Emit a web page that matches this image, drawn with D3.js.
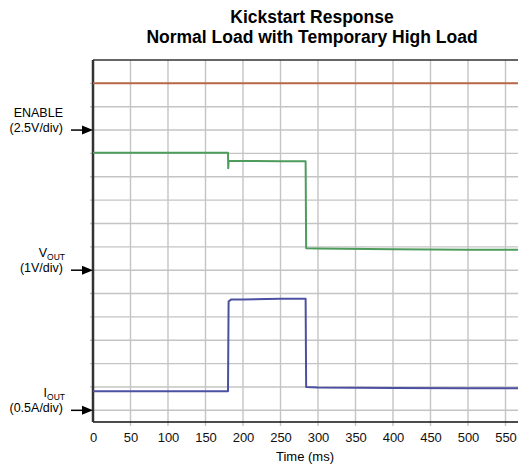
<!DOCTYPE html>
<html>
<head>
<meta charset="utf-8">
<script src="https://cdn.jsdelivr.net/npm/d3@7"></script>
<style>
  body { margin: 0; background: #fff; }
  svg { display: block; font-family: "Liberation Sans", Arial, sans-serif; }
</style>
</head>
<body>
<div id="chart"></div>
<script>
// scope capture, values
const xTicks = [0, 50, 100, 150, 200, 250, 300, 350, 400, 450, 500, 550];

const enableTime = [0, 600];
const enableVolts = [5, 5];

const voutTime = [0, 180, 180.3, 180.8, 200, 250, 283.5, 284.2, 300, 400, 500, 600];
const voutVolts = [5.03, 5.03, 4.37, 4.68, 4.68, 4.67, 4.66, 0.94, 0.93, 0.9, 0.88, 0.87];

const ioutTime = [0, 180, 180.8, 184, 200, 250, 283.5, 284.2, 300, 400, 500, 600];
const ioutAmps = [0.41, 0.41, 2.33, 2.37, 2.37, 2.39, 2.39, 0.5, 0.49, 0.48, 0.47, 0.47];

// channel ground (in grid divisions) and scale per division
const channels = [
  {name: "ENABLE", sub: "", unit: "(2.5V/div)", ground: 12, perDiv: 2.5, color: "#b8694a", t: enableTime, v: enableVolts},
  {name: "V", sub: "OUT", unit: "(1V/div)", ground: 6, perDiv: 1, color: "#4e9c5c", t: voutTime, v: voutVolts},
  {name: "I", sub: "OUT", unit: "(0.5A/div)", ground: 0, perDiv: 0.5, color: "#4c50a0", t: ioutTime, v: ioutAmps}
];

const W = 518, H = 470;
const margin = {top: 60, left: 93, bottom: 48};

const x = d3.scaleLinear().domain([0, 600]).range([margin.left, margin.left + 450]);
const y = d3.scaleLinear().domain([-0.5, 15]).range([H - margin.bottom, margin.top]);

const svg = d3.select("#chart").append("svg")
    .attr("width", W)
    .attr("height", H);

// title
svg.append("text")
    .attr("x", 312).attr("y", 23)
    .attr("text-anchor", "middle")
    .attr("font-size", 17.5).attr("font-weight", "bold")
    .text("Kickstart Response");
svg.append("text")
    .attr("x", 312).attr("y", 43)
    .attr("text-anchor", "middle")
    .attr("font-size", 17.5).attr("font-weight", "bold")
    .text("Normal Load with Temporary High Load");

// grid
const grid = svg.append("g")
    .attr("stroke", "#c4c4c4")
    .attr("stroke-width", 1.4);

grid.selectAll("line.v")
  .data(d3.range(50, 601, 50))
  .join("line")
    .attr("x1", d => x(d)).attr("x2", d => x(d))
    .attr("y1", y(15)).attr("y2", y(-0.5) + 4);

grid.selectAll("line.h")
  .data(d3.range(0, 15))
  .join("line")
    .attr("x1", x(0) - 3).attr("x2", x(600))
    .attr("y1", d => y(d)).attr("y2", d => y(d));

// frame
svg.append("line")
    .attr("x1", x(0)).attr("x2", x(600))
    .attr("y1", y(15)).attr("y2", y(15))
    .attr("stroke", "#333").attr("stroke-width", 1.5);
svg.append("line")
    .attr("x1", x(0)).attr("x2", x(600))
    .attr("y1", y(-0.5)).attr("y2", y(-0.5))
    .attr("stroke", "#111").attr("stroke-width", 1.5);
svg.append("line")
    .attr("x1", x(0)).attr("x2", x(0))
    .attr("y1", y(15)).attr("y2", y(-0.5))
    .attr("stroke", "#333").attr("stroke-width", 2.5);

// x axis labels
const xAxis = svg.append("g")
    .attr("transform", `translate(0,${y(-0.5)})`)
    .call(d3.axisBottom(x).tickValues(xTicks).tickSize(0).tickPadding(11));
xAxis.select(".domain").remove();
xAxis.selectAll("text")
    .attr("font-size", 13)
    .attr("font-family", "Liberation Sans, Arial, sans-serif")
    .attr("fill", "#111");

svg.append("text")
    .attr("x", 305).attr("y", 461)
    .attr("text-anchor", "middle")
    .attr("font-size", 13)
    .text("Time (ms)");

// traces
const line = ch => d3.line()
    .x(d => x(d[0]))
    .y(d => y(ch.ground + d[1] / ch.perDiv));

svg.append("g")
  .selectAll("path")
  .data(channels)
  .join("path")
    .attr("fill", "none")
    .attr("stroke", d => d.color)
    .attr("stroke-width", 2)
    .attr("stroke-linejoin", "round")
    .attr("d", d => line(d)(d.t.map((t, i) => [t, d.v[i]])));

// channel labels and ground arrows
const lab = svg.append("g").selectAll("g")
  .data(channels)
  .join("g")
    .attr("transform", d => `translate(0,${y(d.ground)})`);

const nameText = lab.append("text")
    .attr("x", d => d.sub ? 65 : 63)
    .attr("y", -13)
    .attr("text-anchor", "end")
    .attr("font-size", 12.5);
nameText.append("tspan").text(d => d.name);
nameText.append("tspan")
    .attr("font-size", 8.5)
    .attr("dy", 3)
    .text(d => d.sub);

lab.append("text")
    .attr("x", 63).attr("y", 2)
    .attr("text-anchor", "end")
    .attr("font-size", 12.5)
    .text(d => d.unit);

lab.append("line")
    .attr("x1", 71).attr("x2", 84)
    .attr("y1", 0).attr("y2", 0)
    .attr("stroke", "#000").attr("stroke-width", 1.5);
lab.append("path")
    .attr("d", "M82,-4.5L93,0L82,4.5Z")
    .attr("fill", "#000");
</script>
</body>
</html>
